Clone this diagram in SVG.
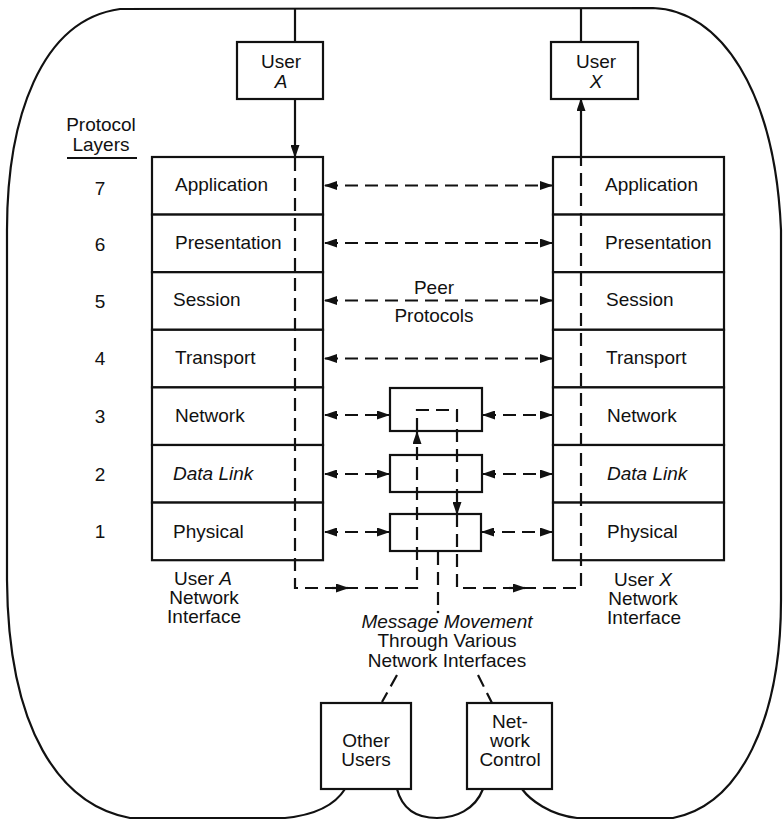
<svg xmlns="http://www.w3.org/2000/svg" width="783" height="820" viewBox="0 0 783 820">
<defs>
<marker id="ah" markerUnits="userSpaceOnUse" markerWidth="13" markerHeight="9" refX="12" refY="4.5" orient="auto-start-reverse" viewBox="0 0 13 9">
<path d="M0,0 L13,4.5 L0,9 Z" fill="#111"/>
</marker>
<style>
.t{font-family:"Liberation Sans",Arial,sans-serif;font-size:19px;fill:#111}
.m{text-anchor:middle}
.i{font-style:italic}
.box{fill:#fff;stroke:#111;stroke-width:2.2}
.ln{fill:none;stroke:#111;stroke-width:2.2}
.d{fill:none;stroke:#111;stroke-width:2.2;stroke-dasharray:13 7}
</style>
</defs>
<rect width="783" height="820" fill="#fff"/>

<g id="boundary">
<path class="ln" d="M345,789 C335,805 315,815 285,818 L130,818 C60,805 8,730 7,580 L7,230 C7,120 40,20 120,9 L653,8 C720,10 775,90 781,230 L781,600 C781,720 740,805 673,818 L577,818 C550,815 530,800 522,789"/>
<path class="ln" d="M397,789 C403,812 420,818 437,818 C455,818 475,810 483,789"/>
<line class="ln" x1="295" y1="9" x2="295" y2="42"/>
<line class="ln" x1="581" y1="8" x2="581" y2="42"/>
</g>

<g id="userA">
<rect class="box" x="237" y="42" width="86" height="57"/>
<text class="t m" x="281" y="68">User</text>
<text class="t m i" x="281" y="88">A</text>
</g>
<g id="userX">
<rect class="box" x="551" y="42" width="87" height="57"/>
<text class="t m" x="596" y="68">User</text>
<text class="t m i" x="596" y="88">X</text>
</g>

<g id="layers-label">
<text class="t m" x="101" y="131">Protocol</text>
<text class="t m" x="101" y="151">Layers</text>
<line class="ln" x1="67" y1="158" x2="137" y2="158" stroke-width="1.6"/>
<text class="t m" x="100" y="195">7</text>
<text class="t m" x="100" y="251">6</text>
<text class="t m" x="100" y="308">5</text>
<text class="t m" x="100" y="365">4</text>
<text class="t m" x="100" y="423">3</text>
<text class="t m" x="100" y="481">2</text>
<text class="t m" x="100" y="538">1</text>
</g>

<g id="stackA">
<rect class="box" x="152" y="157" width="171" height="57.6"/>
<rect class="box" x="152" y="214.6" width="171" height="57.6"/>
<rect class="box" x="152" y="272.2" width="171" height="57.6"/>
<rect class="box" x="152" y="329.8" width="171" height="57.6"/>
<rect class="box" x="152" y="387.4" width="171" height="57.6"/>
<rect class="box" x="152" y="445" width="171" height="57.6"/>
<rect class="box" x="152" y="502.6" width="171" height="57.6"/>
<text class="t" x="175" y="191">Application</text>
<text class="t" x="175" y="249">Presentation</text>
<text class="t" x="173" y="306">Session</text>
<text class="t" x="175" y="364">Transport</text>
<text class="t" x="175" y="422">Network</text>
<text class="t i" x="173" y="480">Data Link</text>
<text class="t" x="173" y="538">Physical</text>
<text class="t m" x="203" y="585">User <tspan class="i">A</tspan></text>
<text class="t m" x="204" y="604">Network</text>
<text class="t m" x="204" y="623">Interface</text>
</g>

<g id="stackX">
<rect class="box" x="553" y="157" width="171" height="57.6"/>
<rect class="box" x="553" y="214.6" width="171" height="57.6"/>
<rect class="box" x="553" y="272.2" width="171" height="57.6"/>
<rect class="box" x="553" y="329.8" width="171" height="57.6"/>
<rect class="box" x="553" y="387.4" width="171" height="57.6"/>
<rect class="box" x="553" y="445" width="171" height="57.6"/>
<rect class="box" x="553" y="502.6" width="171" height="57.6"/>
<text class="t" x="605" y="191">Application</text>
<text class="t" x="605" y="249">Presentation</text>
<text class="t" x="606" y="306">Session</text>
<text class="t" x="606" y="364">Transport</text>
<text class="t" x="607" y="422">Network</text>
<text class="t i" x="607" y="480">Data Link</text>
<text class="t" x="607" y="538">Physical</text>
<text class="t m" x="643" y="586">User <tspan class="i">X</tspan></text>
<text class="t m" x="643" y="605">Network</text>
<text class="t m" x="644" y="624">Interface</text>
</g>

<g id="relay">
<rect class="box" x="390" y="388" width="92" height="43"/>
<rect class="box" x="390" y="455" width="92" height="37"/>
<rect class="box" x="390" y="514" width="91" height="37"/>
</g>

<g id="peer-label">
<text class="t m" x="434" y="294">Peer</text>
<text class="t m" x="434" y="322">Protocols</text>
</g>

<g id="message-label">
<text class="t m i" x="447" y="628">Message Movement</text>
<text class="t m" x="447" y="647">Through Various</text>
<text class="t m" x="447" y="667">Network Interfaces</text>
</g>

<g id="otherUsers">
<rect class="box" x="321" y="703" width="90" height="86"/>
<text class="t m" x="366" y="747">Other</text>
<text class="t m" x="366" y="766">Users</text>
</g>
<g id="networkControl">
<rect class="box" x="467" y="703" width="85" height="86"/>
<text class="t m" x="510" y="728">Net-</text>
<text class="t m" x="510" y="747">work</text>
<text class="t m" x="510" y="766">Control</text>
</g>

<g id="connectors">
<line class="ln" x1="295" y1="99" x2="295" y2="157" marker-end="url(#ah)"/>
<line class="ln" x1="581" y1="158" x2="581" y2="99" marker-end="url(#ah)"/>
<path class="d" d="M295,158 V588 H417 V432" stroke-dasharray="12 7" marker-end="url(#ah)"/>
<path class="d" d="M417,431 V410 H457 V514" stroke-dasharray="12 7" marker-end="url(#ah)"/>
<path class="d" d="M457,514 V588 H581 V158" stroke-dasharray="12 7"/>
<line class="ln" x1="332" y1="588" x2="348" y2="588" marker-end="url(#ah)"/>
<line class="ln" x1="509" y1="588" x2="525" y2="588" marker-end="url(#ah)"/>
<line class="d" x1="325" y1="185.5" x2="552" y2="185.5" marker-start="url(#ah)" marker-end="url(#ah)"/>
<line class="d" x1="325" y1="243" x2="552" y2="243" marker-start="url(#ah)" marker-end="url(#ah)"/>
<line class="d" x1="325" y1="300.5" x2="552" y2="300.5" marker-start="url(#ah)" marker-end="url(#ah)"/>
<line class="d" x1="325" y1="358.5" x2="552" y2="358.5" marker-start="url(#ah)" marker-end="url(#ah)"/>
<line class="d" x1="325" y1="415" x2="389" y2="415" stroke-dasharray="10 7" marker-start="url(#ah)" marker-end="url(#ah)"/>
<line class="d" x1="483" y1="415" x2="552" y2="415" stroke-dasharray="10 7" marker-start="url(#ah)" marker-end="url(#ah)"/>
<line class="d" x1="325" y1="474" x2="389" y2="474" stroke-dasharray="10 7" marker-start="url(#ah)" marker-end="url(#ah)"/>
<line class="d" x1="483" y1="474" x2="552" y2="474" stroke-dasharray="10 7" marker-start="url(#ah)" marker-end="url(#ah)"/>
<line class="d" x1="325" y1="532" x2="389" y2="532" stroke-dasharray="10 7" marker-start="url(#ah)" marker-end="url(#ah)"/>
<line class="d" x1="482" y1="532" x2="552" y2="532" stroke-dasharray="10 7" marker-start="url(#ah)" marker-end="url(#ah)"/>
<line class="d" x1="438" y1="552" x2="438" y2="607" stroke-dasharray="12 6"/>
<circle cx="438" cy="612" r="1.3" fill="#111"/>
<line class="d" x1="397" y1="675" x2="382" y2="702" stroke-dasharray="12 6"/>
<line class="d" x1="478" y1="675" x2="492" y2="703" stroke-dasharray="10 7"/>
</g>
</svg>
